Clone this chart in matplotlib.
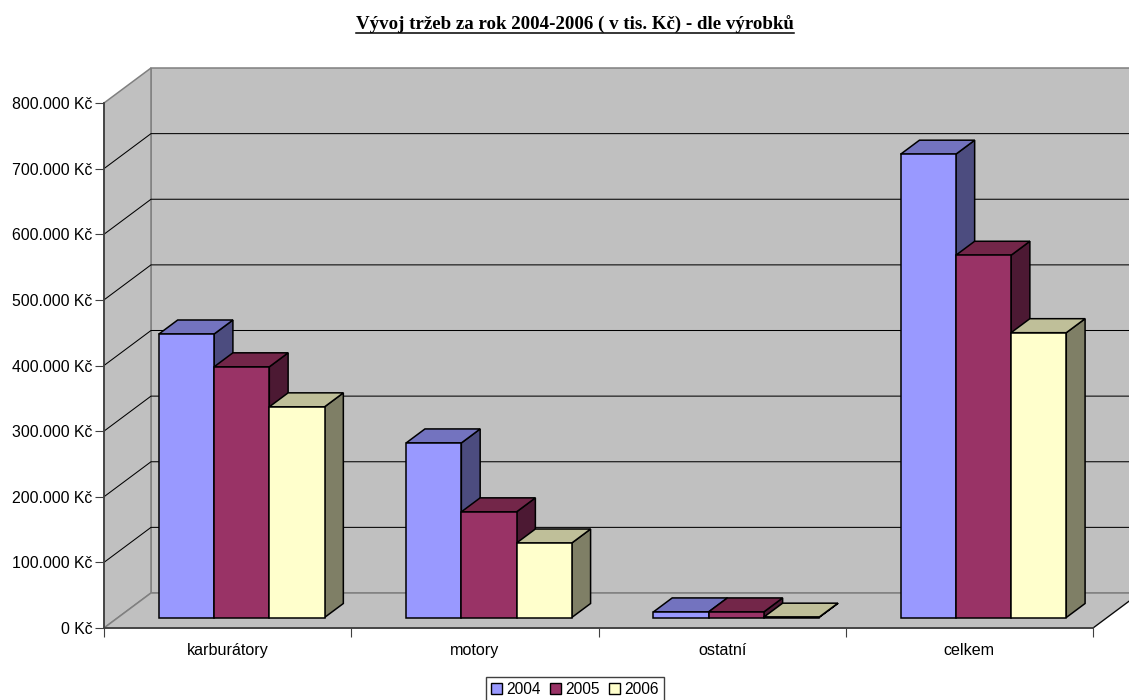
import matplotlib
matplotlib.use("Agg")
import matplotlib.pyplot as plt
from matplotlib.lines import Line2D
from matplotlib.patches import Patch, Polygon
from matplotlib.ticker import FuncFormatter

plt.rcParams["font.family"] = ["Liberation Sans", "DejaVu Sans"]

categories = ["karburátory", "motory", "ostatní", "celkem"]
years = ["2004", "2005", "2006"]
sales_2004 = [432000, 266000, 8500, 706000]
sales_2005 = [382000, 161000, 8500, 552000]
sales_2006 = [321000, 113500, 500, 434000]
y_ticks = [0, 100000, 200000, 300000, 400000, 500000, 600000, 700000, 800000]

title = "Vývoj tržeb za rok 2004-2006 ( v tis. Kč) - dle výrobků"

colours = ["#9999FF", "#993366", "#FFFFCC"]
top_colours = ["#7373BF", "#732649", "#BFBF99"]
side_colours = ["#4C4C7F", "#4C1933", "#7F7F66"]
wall_colour = "#C0C0C0"
wall_edge = "#808080"

# oblique projection: one unit of depth moves this far in data units
DEPTH_X = 47 / 247.25
DEPTH_Y = 35 / 525 * 800000
BAR_FRONT = 0.3
BAR_BACK = 0.7
BAR_WIDTH = 0.2233
BAR_MARGIN = 0.165


def skew(x, y, depth):
    return (x + depth * DEPTH_X, y + depth * DEPTH_Y)


def quad(ax, points, colour, edge="black", lw=1.1, zorder=2):
    ax.add_patch(Polygon(points, closed=True, facecolor=colour, edgecolor=edge,
                         linewidth=lw, joinstyle="miter", clip_on=False, zorder=zorder))


def draw_box(ax, x, value, i):
    x2 = x + BAR_WIDTH
    quad(ax, [skew(x2, 0, BAR_FRONT), skew(x2, 0, BAR_BACK),
              skew(x2, value, BAR_BACK), skew(x2, value, BAR_FRONT)], side_colours[i])
    quad(ax, [skew(x, value, BAR_FRONT), skew(x2, value, BAR_FRONT),
              skew(x2, value, BAR_BACK), skew(x, value, BAR_BACK)], top_colours[i])
    quad(ax, [skew(x, 0, BAR_FRONT), skew(x2, 0, BAR_FRONT),
              skew(x2, value, BAR_FRONT), skew(x, value, BAR_FRONT)], colours[i])


fig = plt.figure(figsize=(11.29, 7.0), dpi=100)
ax = fig.add_axes([104 / 1129, 72 / 700, 989 / 1129, 525 / 700])
n_cat = len(categories)
top = y_ticks[-1]
ax.set_xlim(0, n_cat)
ax.set_ylim(0, top)

# back wall, side wall and floor
quad(ax, [skew(0, 0, 1), skew(n_cat, 0, 1), skew(n_cat, top, 1), skew(0, top, 1)],
     wall_colour, edge=wall_edge, lw=1.1, zorder=0)
quad(ax, [skew(0, 0, 0), skew(0, 0, 1), skew(0, top, 1), skew(0, top, 0)],
     wall_colour, edge=wall_edge, lw=1.1, zorder=0)
quad(ax, [skew(0, 0, 0), skew(n_cat, 0, 0), skew(n_cat, 0, 1), skew(0, 0, 1)],
     wall_colour, edge=wall_edge, lw=1.1, zorder=0)

# gridlines run along the side wall and across the back wall
for tick in y_ticks[1:-1]:
    xs, ys = zip(skew(0, tick, 0), skew(0, tick, 1), skew(n_cat, tick, 1))
    ax.add_line(Line2D(xs, ys, color="black", lw=0.75, clip_on=False, zorder=1))
xs, ys = zip(skew(n_cat, 0, 0), skew(n_cat, 0, 1))
ax.add_line(Line2D(xs, ys, color="black", lw=0.75, clip_on=False, zorder=1))

series = [sales_2004, sales_2005, sales_2006]
for c in range(n_cat):
    for i, values in enumerate(series):
        draw_box(ax, c + BAR_MARGIN + i * BAR_WIDTH, values[c], i)

for side in ["top", "right"]:
    ax.spines[side].set_visible(False)
for side in ["left", "bottom"]:
    ax.spines[side].set_color("#404040")
    ax.spines[side].set_linewidth(1.3)
    ax.spines[side].set_zorder(3)
ax.patch.set_visible(False)

ax.set_yticks(y_ticks)
ax.yaxis.set_major_formatter(FuncFormatter(lambda v, _: f"{int(v):,} Kč".replace(",", ".")))
ax.tick_params(axis="y", length=6.5, width=0.8, color="#404040", pad=2, labelsize=11.4)
ax.set_xticks(range(n_cat + 1))
ax.set_xticklabels([])
ax.set_xticks([c + 0.5 for c in range(n_cat)], categories, minor=True)
ax.tick_params(axis="x", which="major", length=6.5, width=0.8, color="#404040")
ax.tick_params(axis="x", which="minor", length=0, pad=10.5, labelsize=11.6)

title_text = fig.text(575 / 1129, 1 - 30 / 700, title, ha="center", va="baseline",
                      family=["Liberation Serif"], fontweight="bold", fontsize=13.6)

# text has no underline style, so the rule is placed from the measured extent
fig.canvas.draw()
box = title_text.get_window_extent().transformed(fig.transFigure.inverted())
rule_y = 1 - 32.7 / 700
fig.add_artist(Line2D([box.x0, box.x1], [rule_y, rule_y], color="black", lw=1.1,
                      transform=fig.transFigure))

handles = [Patch(facecolor=c, edgecolor="black", linewidth=1.0) for c in colours]
fig.legend(handles, years, loc="center", bbox_to_anchor=(575 / 1129, 1 - 689.3 / 700),
           ncol=3, frameon=True, fancybox=False, framealpha=1, edgecolor="#404040",
           fontsize=11.2, handlelength=0.71, handleheight=0.71, handletextpad=0.26,
           columnspacing=0.62, borderpad=0.32, borderaxespad=0)

fig.savefig("out.png", dpi=100)
